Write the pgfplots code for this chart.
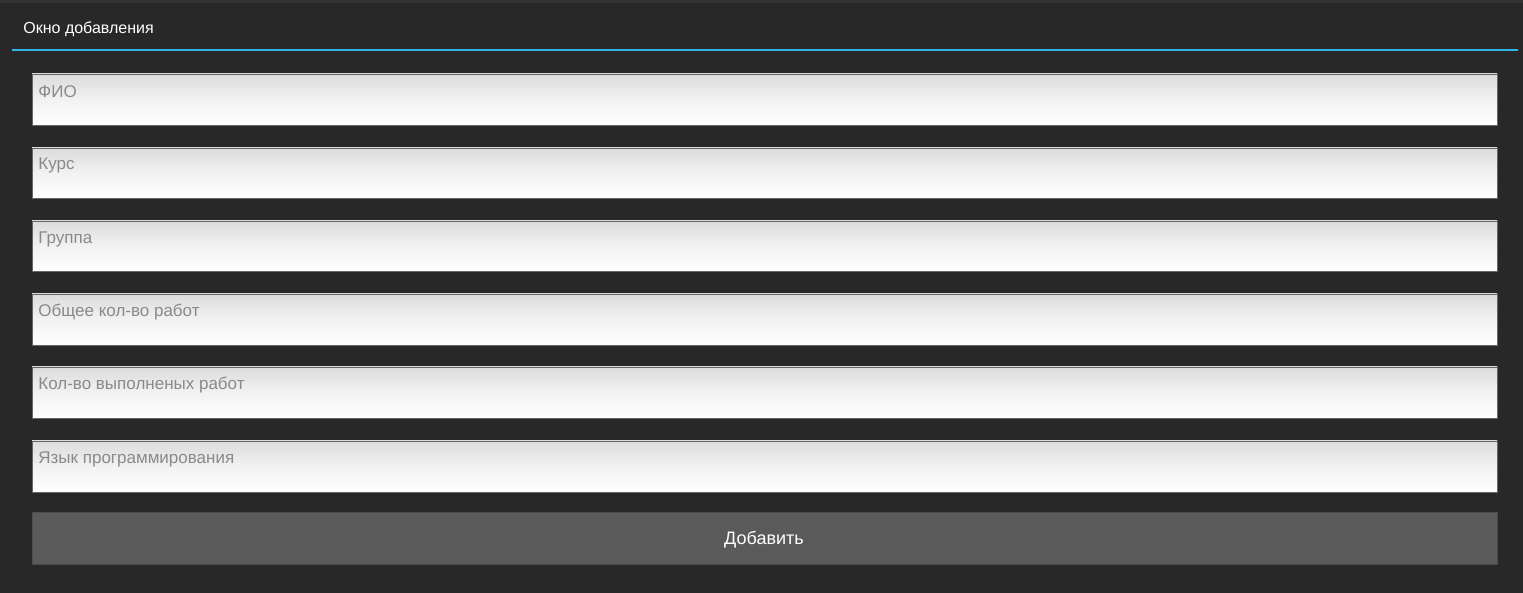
\documentclass[border=0pt]{standalone}
\usepackage{pgfplots}
\pgfplotsset{compat=1.18}
\usepackage{fontspec}
\setmainfont{Liberation Sans}
\definecolor{bg}{HTML}{282828}
\definecolor{holo}{HTML}{33B5E5}
\definecolor{hint}{HTML}{8A8A8A}
\definecolor{btn}{HTML}{5A5A5A}
\begin{document}
\begin{tikzpicture}
\begin{axis}[width=761.5pt,height=296.5pt,scale only axis,axis lines=none,
 xmin=0,xmax=1523,ymin=0,ymax=593,y dir=reverse,clip=false]
\addplot[draw=none,fill=bg] coordinates {(0,0)(1523,0)(1523,593)(0,593)} -- cycle;
\addplot[draw=none,fill=black!80] coordinates {(0,0)(1523,0)(1523,3)(0,3)} -- cycle;
\addplot[holo,line width=1.2pt] coordinates {(12,50)(1518,50)};
\foreach \a/\b in {74/125,148/198,221/271,294/345,367/418,441/492}{
 \addplot[draw=black!60,line width=0.3pt,top color=black!14,bottom color=white,middle color=black!5] coordinates {(32,\a)(1497,\a)(1497,\b)(32,\b)} -- cycle;
}
\addplot[draw=black!70,fill=btn] coordinates {(32,512)(1497,512)(1497,564)(32,564)} -- cycle;
\tikzset{every node/.append style={inner sep=0pt}}
\node[anchor=west,white,font=\fontsize{8}{9}\selectfont] at (axis cs:23,29) {Окно добавления};
\node[anchor=west,hint,font=\fontsize{8.5}{10}\selectfont] at (axis cs:38,92) {ФИО};
\node[anchor=west,hint,font=\fontsize{8.5}{10}\selectfont] at (axis cs:38,165) {Курс};
\node[anchor=west,hint,font=\fontsize{8.5}{10}\selectfont] at (axis cs:38,239) {Группа};
\node[anchor=west,hint,font=\fontsize{8.5}{10}\selectfont] at (axis cs:38,312) {Общее кол-во работ};
\node[anchor=west,hint,font=\fontsize{8.5}{10}\selectfont] at (axis cs:38,385) {Кол-во выполненых работ};
\node[anchor=west,hint,font=\fontsize{8.5}{10}\selectfont] at (axis cs:38,459) {Язык программирования};
\node[white,font=\fontsize{9}{10}\selectfont] at (axis cs:764,540) {Добавить};
\end{axis}
\end{tikzpicture}
\end{document}
